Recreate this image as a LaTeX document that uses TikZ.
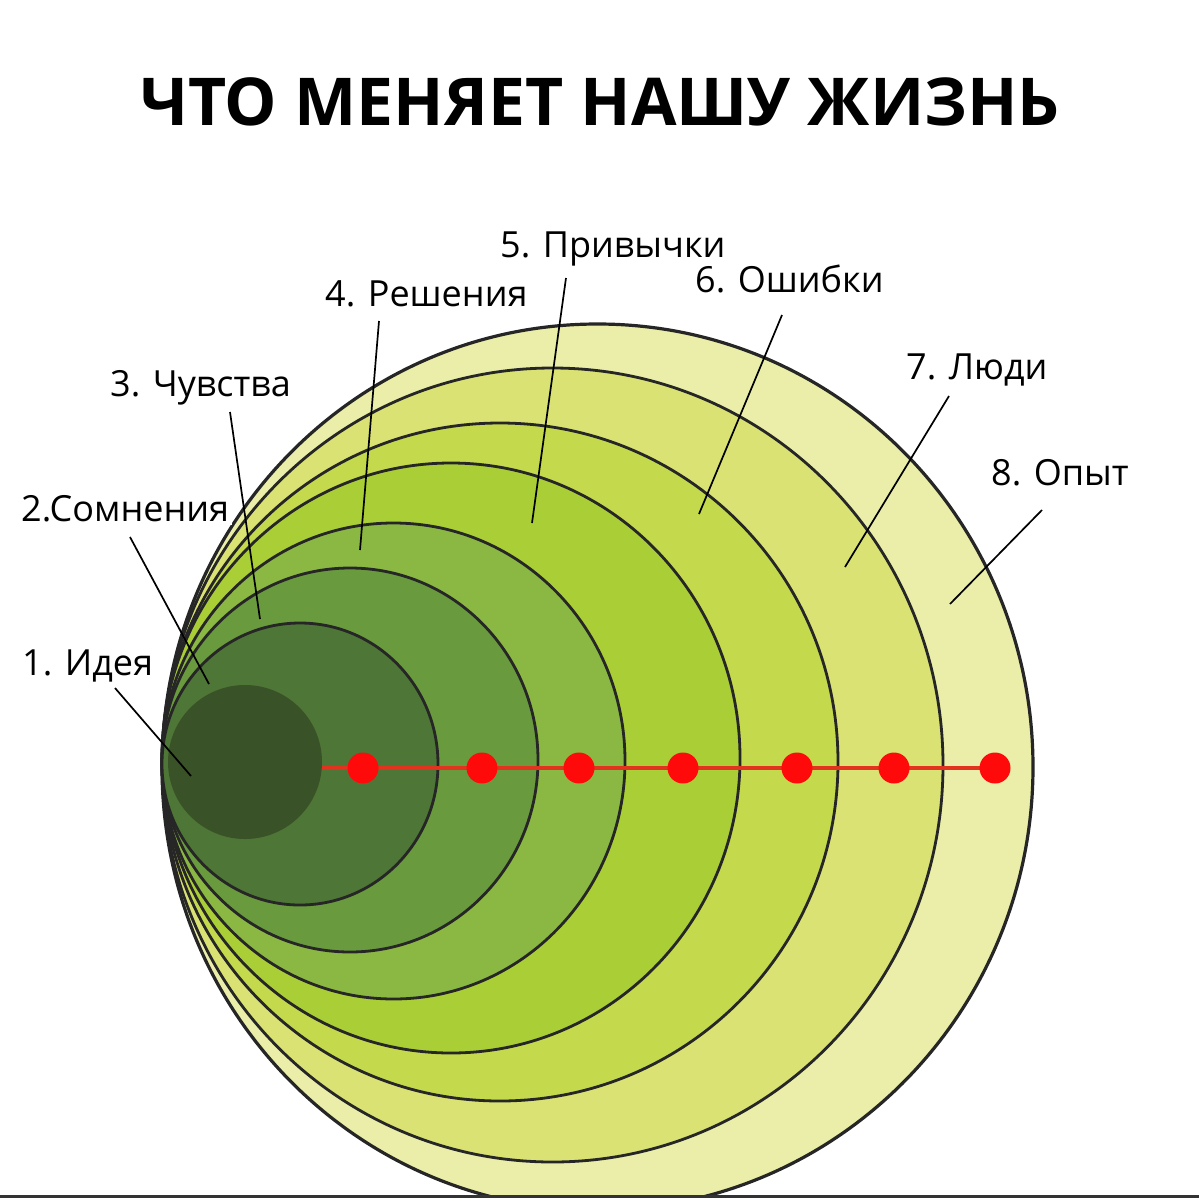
\documentclass[tikz,border=0pt]{standalone}
\usepackage{fontspec}
\setmainfont{Open Sans}
\usepackage{tikz}

\definecolor{ideagreen}{HTML}{3A5227}
\definecolor{ringtwo}{HTML}{4E7636}
\definecolor{ringthree}{HTML}{6A9A3E}
\definecolor{ringfour}{HTML}{8BB843}
\definecolor{ringfive}{HTML}{AACF36}
\definecolor{ringsix}{HTML}{C4D94C}
\definecolor{ringseven}{HTML}{D9E273}
\definecolor{ringeight}{HTML}{EAEEA8}
\definecolor{dotred}{HTML}{FF0A0A}
\definecolor{linered}{HTML}{E2331E}

\begin{document}
\begin{tikzpicture}[x=1pt, y=-1pt,
	ring/.style={draw=black!85, line width=2.8pt},
	leader/.style={draw=black, line width=1.7pt},
	lbl/.style={anchor=base west, inner sep=0pt, font=\fontsize{36}{42}\selectfont},
	dot/.style={circle, fill=dotred, inner sep=0pt, minimum size=31pt}]
	
	\useasboundingbox (0,0) rectangle (1199,1197);
	
	\node[anchor=base, inner sep=0pt, font=\fontsize{66}{70}\selectfont\bfseries] (title) at (600,125) {ЧТО МЕНЯЕТ НАШУ ЖИЗНЬ};
	
	\draw[ring, line width=3.2pt, fill=ringeight] (597.5,767) ellipse [x radius=435.5pt, y radius=443pt];
	\draw[ring, fill=ringseven] (552.5,765) ellipse [x radius=390.5pt, y radius=397pt];
	\draw[ring, fill=ringsix] (500,762) ellipse [x radius=338pt, y radius=339pt];
	\draw[ring, fill=ringfive] (451,758) ellipse [x radius=289pt, y radius=295pt];
	\draw[ring, fill=ringfour] (393.5,761) ellipse [x radius=231.5pt, y radius=238pt];
	\draw[ring, fill=ringthree] (350,760) ellipse [x radius=188pt, y radius=192pt];
	\draw[ring, fill=ringtwo] (300,764) ellipse [x radius=138pt, y radius=141pt];
	
	\node[circle, fill=ideagreen, inner sep=0pt, minimum size=154pt] (idea) at (245,762) {};
	
	\coordinate (d1) at (363,768);
	\coordinate (d2) at (482,768);
	\coordinate (d3) at (579,768);
	\coordinate (d4) at (683,768);
	\coordinate (d5) at (797,768);
	\coordinate (d6) at (894,768);
	\coordinate (d7) at (995,768);
	
	\draw[linered, line width=4pt] (idea.east |- d1) -- (d7);
	\foreach \n in {1,...,7} \node[dot] (dot\n) at (d\n) {};
	
	\node[lbl] (l1) at (22,675) {1. Идея};
	\node[lbl, fill=white, inner sep=3pt] (l2) at (18,521) {2.Сомнения};
	\node[lbl] (l3) at (110,396) {3. Чувства};
	\node[lbl] (l4) at (325,306) {4. Решения};
	\node[lbl] (l5) at (500,257) {5. Привычки};
	\node[lbl] (l6) at (695,292) {6. Ошибки};
	\node[lbl] (l7) at (906,379) {7. Люди};
	\node[lbl] (l8) at (991,485) {8. Опыт};
	
	\coordinate (a1) at (115,688);
	\coordinate (b1) at (191,776);
	\coordinate (a2) at (130,537);
	\coordinate (b2) at (209,684);
	\coordinate (a3) at (230,412);
	\coordinate (b3) at (260,619);
	\coordinate (a4) at (379,321);
	\coordinate (b4) at (360,550);
	\coordinate (a5) at (566,278);
	\coordinate (b5) at (532,523);
	\coordinate (a6) at (782,315);
	\coordinate (b6) at (699,514);
	\coordinate (a7) at (949,396);
	\coordinate (b7) at (845,567);
	\coordinate (a8) at (1042,510);
	\coordinate (b8) at (950,604);
	
	\foreach \n in {1,...,8} \draw[leader] (a\n) -- (b\n);
	
	\draw[black!80, line width=3pt] (0,1196) -- (1199,1196);
\end{tikzpicture}
\end{document}
